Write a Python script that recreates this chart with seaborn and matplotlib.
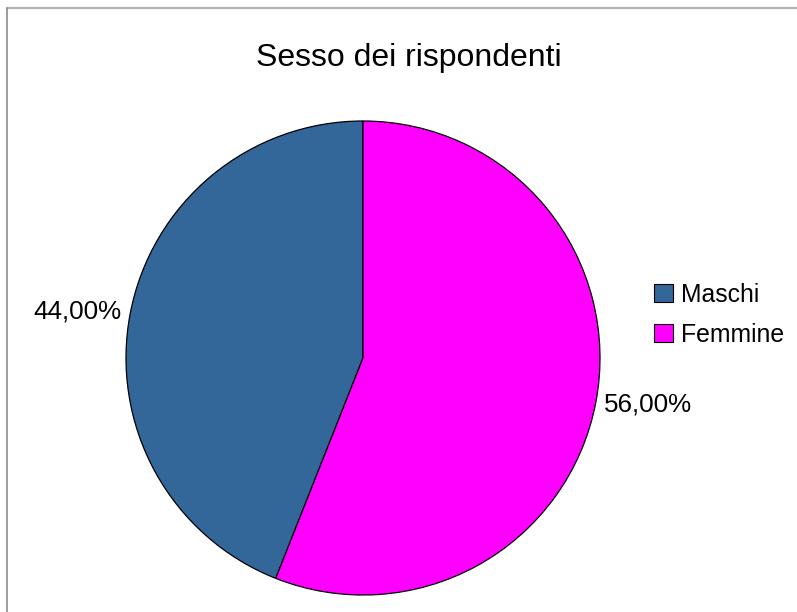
import matplotlib
matplotlib.use("Agg")
import matplotlib.pyplot as plt
from matplotlib.patches import Patch
from matplotlib.lines import Line2D
import seaborn as sns

sns.set_theme(style="white")
plt.rcParams['font.family'] = ['Liberation Sans', 'DejaVu Sans']
plt.rcParams['text.color'] = 'black'

categories = ["Maschi", "Femmine"]
shares = [44.00, 56.00]
colors = ["#336699", "#FF00FF"]
title = "Sesso dei rispondenti"

W, H = 797, 612
fig = plt.figure(figsize=(W / 100, H / 100), dpi=100)
fig.patch.set_facecolor("white")

# pie axes: square box of 474 px, centred at (363, 358) px from top-left
cx, cy, r = 363, 358, 237
ax = fig.add_axes([(cx - r) / W, (H - cy - r) / H, 2 * r / W, 2 * r / H])

wedges, texts, autotexts = ax.pie(
    shares,
    colors=colors,
    startangle=90,
    counterclock=True,
    autopct=lambda p: f"{p:.2f}%".replace(".", ","),
    pctdistance=1.225,
    wedgeprops=dict(edgecolor="black", linewidth=0.9),
    textprops=dict(fontsize=18.7, color="black"),
)
# pull the percentage labels a little toward the horizontal
for t in autotexts:
    x, y = t.get_position()
    t.set_position((x, y * 0.86))

ax.set_xlim(-1, 1)
ax.set_ylim(-1, 1)
ax.set_aspect("equal")
ax.axis("off")

fig.text(408.5 / W, 1 - 58 / H, title, ha="center", va="center",
         fontsize=23, color="black")

handles = [Patch(facecolor=c, edgecolor="black", linewidth=0.8) for c in colors]
fig.legend(handles, categories, loc="center left",
           bbox_to_anchor=(654 / W, 1 - 315 / H),
           frameon=False, fontsize=17.8, labelcolor="black",
           handlelength=0.75, handleheight=0.75,
           handletextpad=0.35, labelspacing=0.65, borderpad=0, borderaxespad=0)

# chart frame (top and left edges visible)
fig.add_artist(Line2D([7 / W, 1], [1 - 7.5 / H, 1 - 7.5 / H],
                      transform=fig.transFigure, color="#b4b4b4", linewidth=1.6))
fig.add_artist(Line2D([7 / W, 7 / W], [0, 1 - 7.5 / H],
                      transform=fig.transFigure, color="#8c8c8c", linewidth=1.2))

fig.savefig("out.png", dpi=100)
